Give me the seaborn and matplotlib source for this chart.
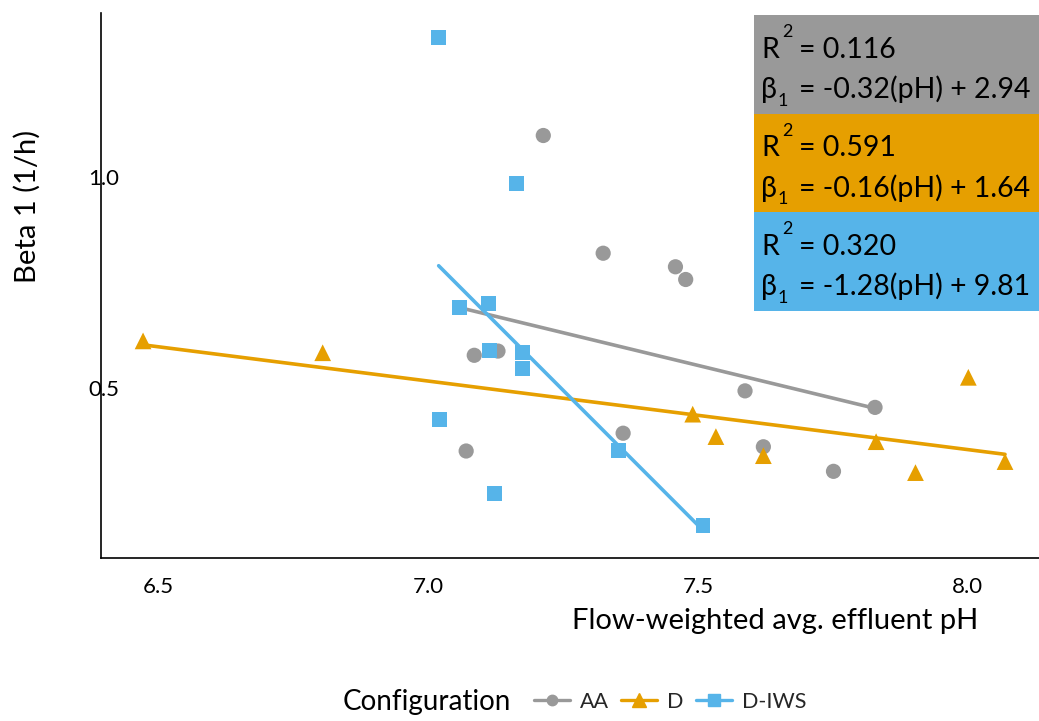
import numpy as np
import pandas as pd
import matplotlib
matplotlib.use("Agg")
import matplotlib.pyplot as plt
import seaborn as sns
from matplotlib.lines import Line2D
from matplotlib.patches import Rectangle

# Observations per reactor configuration: effluent pH vs. first-order rate constant
configs = ["AA", "D", "D-IWS"]

aa_ph = [7.114, 7.158, 7.099, 7.242, 7.353, 7.487, 7.506, 7.616, 7.857, 7.390, 7.650, 7.780]
aa_beta = [0.578, 0.588, 0.352, 1.097, 0.819, 0.787, 0.757, 0.494, 0.455, 0.394, 0.362, 0.304]

d_ph = [6.500, 6.833, 7.519, 7.562, 7.650, 7.859, 7.932, 8.030, 8.098]
d_beta = [0.612, 0.584, 0.439, 0.386, 0.341, 0.374, 0.301, 0.526, 0.327]

diws_ph = [7.048, 7.193, 7.087, 7.140, 7.142, 7.203, 7.203, 7.049, 7.151, 7.382, 7.538]
diws_beta = [1.329, 0.984, 0.691, 0.701, 0.590, 0.584, 0.547, 0.427, 0.252, 0.354, 0.176]

# Regression summaries shown in the side panel
fit_r2 = ["0.116", "0.591", "0.320"]
fit_eq = ["-0.32(pH) + 2.94", "-0.16(pH) + 1.64", "-1.28(pH) + 9.81"]

x_ticks = [6.5, 7.0, 7.5, 8.0]
x_tick_labels = ["6.5", "7.0", "7.5", "8.0"]
y_ticks = [0.5, 1.0]
y_tick_labels = ["0.5", "1.0"]

palette = {"AA": "#999999", "D": "#E69F00", "D-IWS": "#56B4E9"}
markers = {"AA": "o", "D": "^", "D-IWS": "s"}
sizes = {"AA": 120, "D": 145, "D-IWS": 115}

df = pd.concat([
    pd.DataFrame({"pH": aa_ph, "beta": aa_beta, "Configuration": "AA"}),
    pd.DataFrame({"pH": d_ph, "beta": d_beta, "Configuration": "D"}),
    pd.DataFrame({"pH": diws_ph, "beta": diws_beta, "Configuration": "D-IWS"}),
], ignore_index=True)

sns.set_theme(style="white")
plt.rcParams["font.family"] = ["Lato", "DejaVu Sans"]

fig = plt.figure(figsize=(10.39, 7.21), dpi=100)
fig.patch.set_facecolor("white")
ax = fig.add_axes([0.0972, 0.2261, 0.9028, 0.7563])
ax.set_facecolor("white")

# Least-squares trend line per configuration
for c in configs:
    sub = df[df["Configuration"] == c]
    sns.regplot(data=sub, x="pH", y="beta", ax=ax, ci=None, scatter=False,
                color=palette[c], line_kws=dict(linewidth=2.6, zorder=2))

sns.scatterplot(data=df, x="pH", y="beta", hue="Configuration", style="Configuration",
                size="Configuration", sizes=sizes, palette=palette, markers=markers,
                linewidth=0, legend=False, ax=ax, zorder=3)

ax.set_xlim(6.422, 8.161)
ax.set_ylim(0.0994, 1.387)
ax.set_xticks(x_ticks)
ax.set_xticklabels(x_tick_labels)
ax.set_yticks(y_ticks)
ax.set_yticklabels(y_tick_labels)

for s in ["top", "right"]:
    ax.spines[s].set_visible(False)
for s in ["left", "bottom"]:
    ax.spines[s].set_color("black")
    ax.spines[s].set_linewidth(1.2)

ax.tick_params(axis="x", length=6.5, width=1.2, color="black", pad=7, labelsize=16, labelcolor="black")
ax.tick_params(axis="y", length=0, pad=-1.8, labelsize=16, labelcolor="black")
for lab in ax.get_xticklabels():
    lab.set_horizontalalignment("left")
for lab in ax.get_yticklabels():
    lab.set_horizontalalignment("center")

ax.set_xlabel("Flow-weighted avg. effluent pH", fontsize=21, color="black")
ax.xaxis.label.set_verticalalignment("baseline")
ax.xaxis.set_label_coords(0.7186, -0.1302)
ax.set_ylabel("Beta 1 (1/h)", fontsize=21, color="black")
ax.yaxis.label.set_verticalalignment("center")
ax.yaxis.set_label_coords(-0.0789, 0.6446)

# Side panel with fit statistics, one coloured band per configuration
W, H = 1039.0, 721.0
band_left = 753.5
band_h = 98.67
renderer = fig.canvas.get_renderer()


def put(x_px, base_px, s, size):
    return fig.text(x_px / W, 1 - base_px / H, s, fontsize=size, va="baseline",
                    ha="left", color="black", zorder=6)


for i, c in enumerate(configs):
    top = 15 + i * band_h
    fig.add_artist(Rectangle((band_left / W, 1 - (top + band_h) / H), 1 - band_left / W, band_h / H,
                             transform=fig.transFigure, facecolor=palette[c], edgecolor="none", zorder=5))
    base1 = top + 42.5
    base2 = top + 83.0
    r = put(761, base1, "R", 20.5)
    rx = r.get_window_extent(renderer).x1
    put(rx + 3, base1 - 20.5, "2", 13)
    put(799, base1, "= " + fit_r2[i], 20.5)
    b = put(761, base2, "β", 20.5)
    bx = b.get_window_extent(renderer).x1
    put(bx + 1, base2 + 7.5, "1", 13)
    put(799, base2, "= " + fit_eq[i], 20.5)

# Legend along the bottom
handles = [Line2D([0], [0], color=palette["AA"], lw=2.4, marker="o", markersize=7.5),
           Line2D([0], [0], color=palette["D"], lw=2.4, marker="^", markersize=10.5),
           Line2D([0], [0], color=palette["D-IWS"], lw=2.4, marker="s", markersize=9)]
fig.legend(handles, configs, loc="center left", bbox_to_anchor=(534 / W, 1 - 702 / H),
           ncol=3, frameon=False, fontsize=15.5, handlelength=1.67, handletextpad=0.47,
           columnspacing=0.56, borderpad=0, borderaxespad=0)
fig.text(343 / W, 1 - 702 / H, "Configuration", fontsize=20, va="center", ha="left", color="black")

fig.savefig("out.png", dpi=100, facecolor="white")
